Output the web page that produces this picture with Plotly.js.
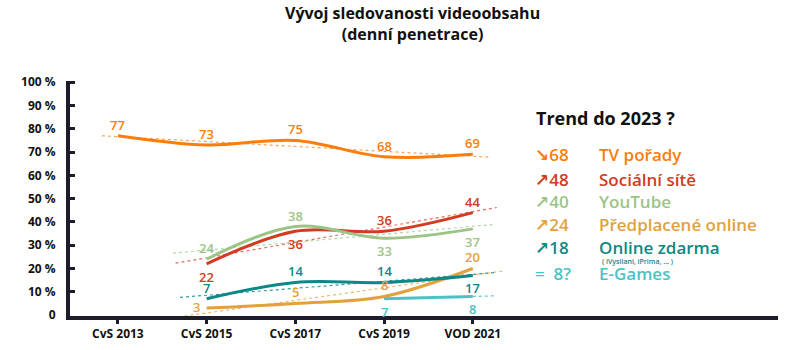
<!DOCTYPE html>
<html><head><meta charset="utf-8">
<script src="https://cdn.plot.ly/plotly-3.0.1.min.js"></script>
<style>html,body{margin:0;padding:0;background:#fff}#chart{width:800px;height:350px}</style>
</head><body><div id="chart"></div>
<script>
// ---- data ----
const categories = ["CvS 2013","CvS 2015","CvS 2017","CvS 2019","VOD 2021"];
const tvPorady   = [77, 73, 75, 68, 69];
const socialni   = [null, 22, 36, 36, 44];
const youtube    = [null, 24, 38, 33, 37];
const predplac   = [null, 3, 5, 8, 20];
const onlineZd   = [null, 7, 14, 14, 17];
const eGames     = [null, null, null, 7, 8];
const seriesNames = ["TV pořady","Sociální sítě","YouTube","Předplacené online","Online zdarma","E-Games"];
const trendArrows = ["↘","↗","↗","↗","↗","="];
const trend2023   = ["68","48","40","24","18","8?"];
const yTickVals   = [0,10,20,30,40,50,60,70,80,90,100];
const yTickText   = ["0","10 %","20 %","30 %","40 %","50 %","60 %","70 %","80 %","90 %","100 %"];

// ---- styles ----
const colors    = ["#FB7D0B","#D33A22","#9CC487","#E3A13E","#0E8787","#4DC2C5"];
const trendCols = ["#F9A35A","#E36E5C","#B7D6A6","#EDB86B","#3A9C9C","#62C9CC"];
const series = [tvPorady, socialni, youtube, predplac, onlineZd, eGames];
// label placement: -1 above, +1 below, 0 beside (left)
const labelPos = [
  [-1,-1,-1,-1,-1],
  [0, 1, 1,-1,-1],
  [0,-1,-1, 1, 1],
  [0, 0,-1,-1,-1],
  [0,-1,-1,-1, 1],
  [0, 0, 0, 1, 1]
];
const trendExt = [[-0.18,4.2],[0.65,4.27],[0.62,4.25],[0.75,4.35],[0.7,4.27],[4.0,4.25]];

const xs = categories.map((_,i)=>i);
const traces = [];
const annotations = [];
const FONT = "Open Sans, DejaVu Sans, sans-serif";

function fit(vals){
  const pts = vals.map((v,i)=>[i,v]).filter(p=>p[1]!==null);
  const n = pts.length;
  const mx = pts.reduce((a,p)=>a+p[0],0)/n, my = pts.reduce((a,p)=>a+p[1],0)/n;
  let sxy=0,sxx=0; pts.forEach(p=>{sxy+=(p[0]-mx)*(p[1]-my); sxx+=(p[0]-mx)**2;});
  const b = sxx? sxy/sxx : 0;
  return x => my + b*(x-mx);
}

series.forEach((vals,s)=>{
  const f = fit(vals);
  const [a,b] = trendExt[s];
  traces.push({x:[a,b], y:[f(a),f(b)], mode:"lines", hoverinfo:"skip",
    line:{color:trendCols[s], width:1.2, dash:"dot"}, showlegend:false});
});
series.forEach((vals,s)=>{
  traces.push({x:xs, y:vals, mode:"lines", name:seriesNames[s], connectgaps:false,
    line:{color:colors[s], width:3, shape:"spline", smoothing:1}, showlegend:false});
  vals.forEach((v,i)=>{
    if(v===null) return;
    const pos = labelPos[s][i];
    annotations.push({x:i, y:v, xref:"x", yref:"y", text:String(v), showarrow:false,
      yshift: pos<0 ? 11 : (pos>0 ? -13 : 1), xshift: pos===0 ? -10 : 0,
      font:{family:FONT, size:13, color:colors[s], weight:600}});
  });
});

// legend-like panel (pixel -> paper)
const L=70, R=22, T=80.5, B=34, W=800-L-R, H=350-T-B;
const px = x => (x-L)/W, py = y => 1-(y-T)/H;
annotations.push({xref:"paper", yref:"paper", x:px(412), y:py(23), xanchor:"center", yanchor:"middle",
  text:"Vývoj sledovanosti videoobsahu<br>(denní penetrace)", showarrow:false,
  font:{family:FONT, size:16, color:"#111", weight:700}});
annotations.push({xref:"paper", yref:"paper", x:px(534), y:py(118), xanchor:"left", yanchor:"middle",
  text:"Trend do 2023 ?", showarrow:false, font:{family:FONT, size:18, color:"#111", weight:700}});
const rowY = [154,179,201,224,247,273];
seriesNames.forEach((nm,s)=>{
  annotations.push({xref:"paper", yref:"paper", x:px(533), y:py(rowY[s]), xanchor:"left", yanchor:"middle",
    text:trendArrows[s]+(s===5?"  ":"")+trend2023[s], showarrow:false,
    font:{family:FONT, size:17, color:colors[s], weight:600}});
  annotations.push({xref:"paper", yref:"paper", x:px(597), y:py(rowY[s]), xanchor:"left", yanchor:"middle",
    text:nm, showarrow:false, font:{family:FONT, size:17, color:colors[s], weight:600}});
});
annotations.push({xref:"paper", yref:"paper", x:px(600), y:py(261), xanchor:"left", yanchor:"middle",
  text:"( iVysilani, iPrima, ... )", showarrow:false, font:{family:FONT, size:7, color:colors[4], weight:600}});

const layout = {
  width:800, height:350,
  margin:{l:L, r:R, t:T, b:B},
  paper_bgcolor:"#fff", plot_bgcolor:"#fff",
  xaxis:{range:[-0.54,7.44], tickvals:xs, ticktext:categories, showgrid:false, zeroline:false,
    showline:true, linecolor:"#1c1c2a", linewidth:4, ticks:"outside", ticklen:4, tickwidth:3, tickcolor:"#1c1c2a",
    tickfont:{family:FONT, size:12, color:"#111", weight:700}, fixedrange:true},
  yaxis:{range:[-0.4,100.5], tickvals:yTickVals, ticktext:yTickText, showgrid:false, zeroline:false,
    showline:true, linecolor:"#1c1c2a", linewidth:4, ticks:"inside", ticklen:5, tickwidth:3, tickcolor:"#1c1c2a",
    ticklabelstandoff:8,
    tickfont:{family:FONT, size:12, color:"#111", weight:700}, fixedrange:true},
  annotations: annotations,
  showlegend:false
};
Plotly.newPlot("chart", traces, layout, {displayModeBar:false, staticPlot:true});
</script></body></html>
